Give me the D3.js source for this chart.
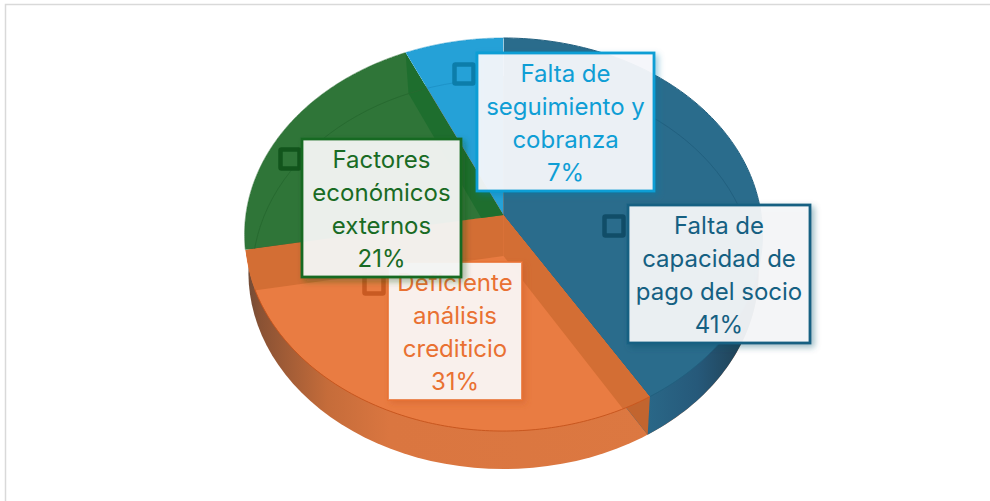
<!DOCTYPE html>
<html><head><meta charset="utf-8">
<script src="https://cdn.jsdelivr.net/npm/d3@7"></script>
<style>html,body{margin:0;padding:0;background:#fff;overflow:hidden}svg{display:block}</style>
</head><body><svg id="c" width="990" height="501"></svg>
<script>
const categories = ["Falta de capacidad de pago del socio","Deficiente análisis crediticio","Factores económicos externos","Falta de seguimiento y cobranza"];
const labelLines = [["Falta de","capacidad de","pago del socio"],["Deficiente","análisis","crediticio"],["Factores","económicos","externos"],["Falta de","seguimiento y","cobranza"]];
const values = [41.3,30.9,21.0,6.8];
const faceColors = ["#2A6C8C","#E97C42","#2F7538","#25A1D7"];
const stripColors = ["#2A6C8C","#D36E34","#1E6E2E","#25A1D7"];
const lineColors = ["#22607F","#C9571F","#276A30","#1E93C8"];
const textColors = ["#156082","#E97132","#196B24","#0F9ED5"];
const keyDark = ["#114D68","#C85A22","#12551C","#0C7DAA"];
const boxFills = ["#F6F8FA","#FBF9F8","#F6F8F6","#F7F9FC"];
// label boxes [x, y, w, h] and legend key centres, layout only
const boxes = [[628,205,182,138],[388,262,134,138],[302,139,159,138],[477,53,177,138]];
const keys = [[614,226],[374,284],[290,159],[464,74]];

const svg = d3.select("#c");
const defs = svg.append("defs");
const cx=503.5, y0=215, A=257.7, B=194.6, k=0.0993;
const project=(t,r=1)=>{const u=r*Math.sin(t),v=-r*Math.cos(t),d=1-k*v;return [cx+A*u/d,y0+B*v/d];};
const shift=(p,dy,s)=>[cx+(p[0]-cx)*s,p[1]+dy];
const inner=p=>shift(p,41,0.97), side=p=>shift(p,38,0.985);
const line=d3.line();
const pie=d3.pie().sort(null).startAngle(0).endAngle(2*Math.PI);
const arcs=pie(values);
const arcPts=(a)=>d3.range(0,121).map(i=>project(a.startAngle+(a.endAngle-a.startAngle)*i/120));
const apex=project(0,0);
const wedge=(a,f=p=>p)=>[apex,...arcPts(a)].map(f);
const pathOf=pts=>line(pts)+"Z";

// frame
svg.append("path").attr("d","M5.5,520V4.5H1000").attr("fill","none").attr("stroke","#D9D9D9").attr("stroke-width",1.5);

// gradients
const g1=defs.append("linearGradient").attr("id","sideO").attr("gradientUnits","userSpaceOnUse").attr("x1",244).attr("x2",660).attr("y1",0).attr("y2",0);
[[0,"#6A4A38"],[.04,"#8A5234"],[.2,"#C56C3A"],[.35,"#DA7640"],[1,"#DC7841"]].forEach(s=>g1.append("stop").attr("offset",s[0]).attr("stop-color",s[1]));
const g2=defs.append("linearGradient").attr("id","sideB").attr("gradientUnits","userSpaceOnUse").attr("x1",645).attr("x2",750).attr("y1",0).attr("y2",0);
[[0,"#2A6888"],[.5,"#26597A"],[1,"#1F3E50"]].forEach(s=>g2.append("stop").attr("offset",s[0]).attr("stop-color",s[1]));
textColors.forEach((c,i)=>{
  const sh=defs.append("filter").attr("id","shadow"+i).attr("x","-10%").attr("y","-10%").attr("width","125%").attr("height","125%");
  sh.append("feDropShadow").attr("dx",3).attr("dy",3).attr("stdDeviation",3).attr("flood-color",keyDark[i]).attr("flood-opacity",.4);
});

arcs.forEach((a,i)=>{defs.append("clipPath").attr("id","slice"+i).append("path").attr("d",pathOf(wedge(a)));});
const all={startAngle:0,endAngle:2*Math.PI};

// extruded sides
svg.append("path").attr("d",pathOf(arcPts(all).map(side))).attr("fill","url(#sideO)");
svg.append("path").attr("d",pathOf(wedge(arcs[0],side))).attr("fill","url(#sideB)");
const cutA=project(arcs[1].startAngle);
svg.append("path").attr("d",pathOf([apex,cutA,side(cutA),side(apex)])).attr("fill","#C2652F");

// top faces with bevel strips
arcs.forEach((a,i)=>{
  const g=svg.append("g").attr("clip-path",`url(#slice${i})`);
  g.append("path").attr("d",pathOf(wedge(a))).attr("fill",faceColors[i]);
  [a.startAngle,a.endAngle].forEach(t=>{
    const o=project(t);
    g.append("path").attr("d",pathOf([apex,o,inner(o),inner(apex)])).attr("fill",stripColors[i]);
  });
  if(i!==1) g.append("path").attr("d",line(arcPts(all).map(inner))).attr("fill","none").attr("stroke",lineColors[i]).attr("stroke-width",1);
  const seam=i===1?{startAngle:a.startAngle,endAngle:a.endAngle-0.2}:a;
  svg.append("path").attr("d",line(arcPts(seam))).attr("fill","none").attr("stroke",lineColors[i]).attr("stroke-width",1).attr("opacity",i<2?1:.5);
});

// labels
values.forEach((val,i)=>{
  const [x,y,w,h]=boxes[i], c=textColors[i];
  const [kx,ky]=keys[i];
  svg.append("rect").attr("x",kx-9.5).attr("y",ky-9.5).attr("width",19).attr("height",19).attr("fill",faceColors[i]).attr("stroke",keyDark[i]).attr("stroke-width",4.5).attr("rx",1);
  svg.append("rect").attr("x",x).attr("y",y).attr("width",w).attr("height",h).attr("fill",boxFills[i]).attr("fill-opacity",.93).attr("stroke",c).attr("stroke-width",i===1?2:2.8).attr("stroke-opacity",i===1?.8:1).attr("filter",`url(#shadow${i})`);
  const lines=[...labelLines[i],d3.format(".0f")(val)+"%"];
  const t=svg.append("text").attr("text-anchor","middle").attr("font-family","Inter, 'Noto Sans', sans-serif").attr("font-size",24).attr("font-weight",400).attr("fill",c);
  t.selectAll("tspan").data(lines).join("tspan").attr("x",x+w/2).attr("y",(d,j)=>y+29+j*33).text(d=>d);
});
</script></body></html>
